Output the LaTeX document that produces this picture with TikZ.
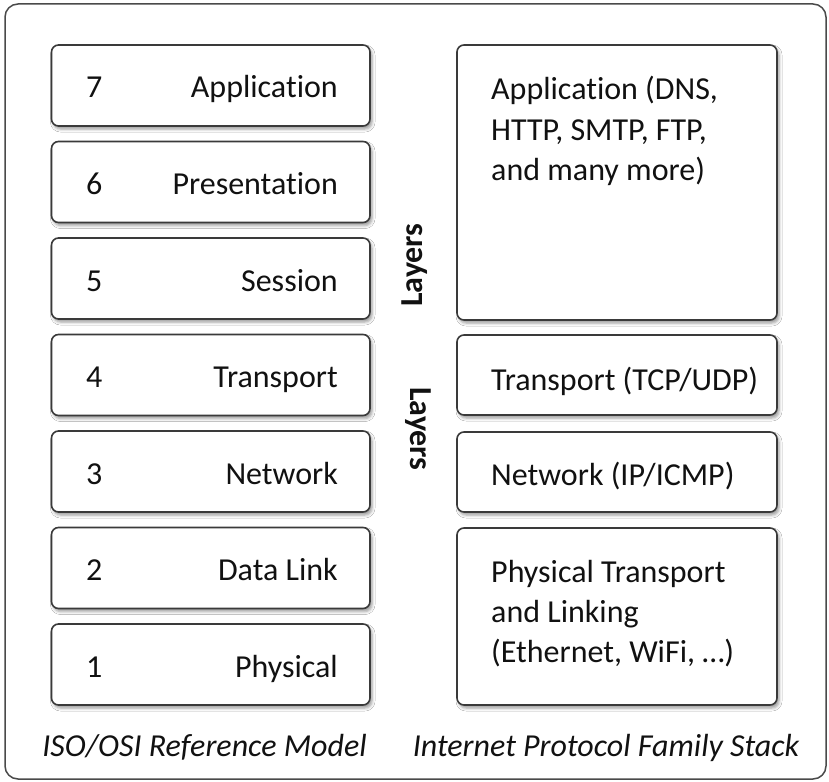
\documentclass[tikz,border=0pt]{standalone}
\usepackage{fontspec}
\setmainfont{Carlito}[Ligatures={NoCommon,NoContextual,NoRare}]
\usetikzlibrary{shadows.blur}

\definecolor{boxline}{HTML}{3A3A3A}
\definecolor{frameline}{HTML}{4A4A4A}
\definecolor{ink}{HTML}{111111}

\begin{document}
\begin{tikzpicture}[x=1pt, y=-1pt,
  frameborder/.style={draw=frameline, line width=1.5pt, rounded corners=13pt},
  layerbox/.style={draw=boxline, line width=1.6pt, rounded corners=7pt, fill=white,
    inner sep=0pt, outer sep=0pt,
    blur shadow={shadow xshift=2pt, shadow yshift=-3pt, shadow blur radius=3pt, shadow opacity=40}},
  osibox/.style={layerbox, minimum width=318.5pt, minimum height=81pt},
  ipbox/.style={layerbox, minimum width=320pt},
  plaintext/.style={inner sep=0pt, text=ink, font=\fontsize{32}{40}\selectfont},
  osinumber/.style={plaintext, anchor=base west},
  osilabel/.style={plaintext, anchor=base east},
  iplabel/.style={plaintext, anchor=base west},
  sidelabel/.style={inner sep=0pt, text=ink, anchor=base, font=\fontsize{32}{40}\selectfont\bfseries},
  stackcaption/.style={inner sep=0pt, text=ink, anchor=base, font=\fontsize{32}{40}\selectfont\itshape}]

\useasboundingbox (0,0) rectangle (829,781);
\fill[white] (0,0) rectangle (829,781);

% outer frame
\draw[frameborder] (5,4) rectangle (826,779);

% ISO/OSI reference model, layers 7 to 1
\foreach \n/\lab/\top in {7/Application/45, 6/Presentation/141.5, 5/Session/238,
                           4/Transport/334.5, 3/Network/431, 2/Data Link/527.5,
                           1/Physical/624} {
  \node[osibox] (osi\n) at (210.75, \top+40.5) {};
  \node[osinumber] (osinum\n) at (86, \top+53) {\n};
  \node[osilabel] (osiname\n) at (338, \top+53) {\lab};
}

% Internet protocol family stack
\node[ipbox, minimum height=275pt] (ipapp) at (617, 182.5) {};
\node[ipbox, minimum height=80pt]  (iptrans) at (617, 375) {};
\node[ipbox, minimum height=80pt]  (ipnet) at (617, 472) {};
\node[ipbox, minimum height=177pt] (ipphys) at (617, 616.5) {};

\node[iplabel] (ipapptxt) at (491, 100) {\begin{tabular}[t]{@{}l@{}}Application (DNS,\\HTTP, SMTP, FTP,\\and many more)\end{tabular}};
\node[iplabel] (iptranstxt) at (491, 390) {Transport (TCP/UDP)};
\node[iplabel] (ipnettxt) at (491, 485) {Network (IP/ICMP)};
\node[iplabel] (ipphystxt) at (491, 582) {\begin{tabular}[t]{@{}l@{}}Physical Transport\\and Linking\\(Ethernet, WiFi, \dots)\end{tabular}};

% rotated side labels between the two stacks
\node[sidelabel, rotate=90]  (layersup) at (422, 265) {Layers};
\node[sidelabel, rotate=-90] (layerslow) at (410, 429) {Layers};

% captions
\node[stackcaption] (osicap) at (204.5, 756) {ISO/OSI Reference Model};
\node[stackcaption] (ipcap) at (606, 756) {Internet Protocol Family Stack};

\end{tikzpicture}
\end{document}
